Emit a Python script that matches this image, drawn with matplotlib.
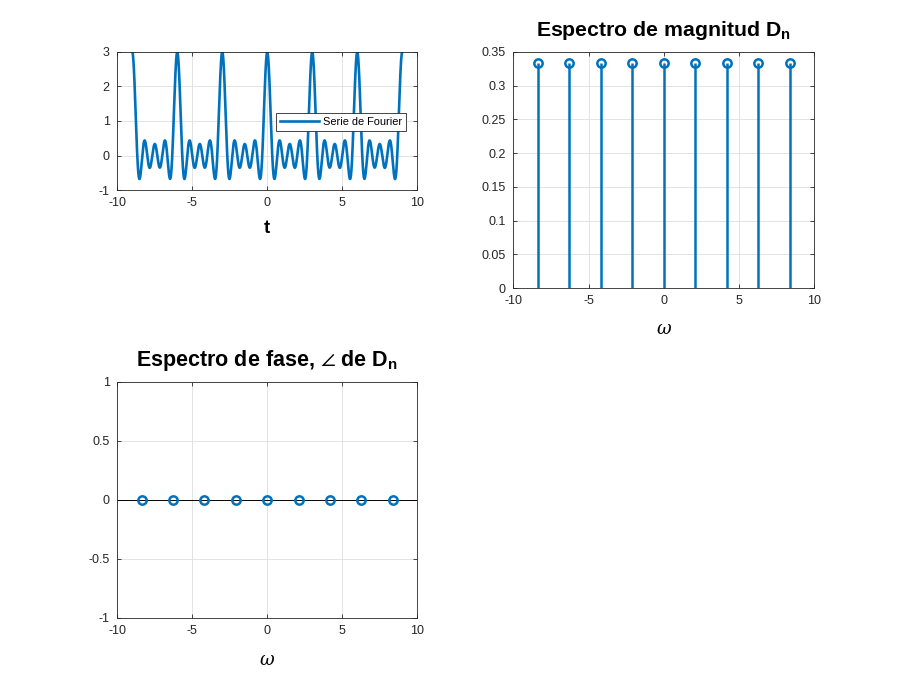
import numpy as np
import matplotlib
matplotlib.use("Agg")
import matplotlib.pyplot as plt

# --------------------------------------------------------------------------
# Data (9 harmonics, period 3 -> w0 = 2*pi/3)
# --------------------------------------------------------------------------
omega = [-8.378, -6.283, -4.189, -2.094, 0.0, 2.094, 4.189, 6.283, 8.378]
Dn_mag = [0.333, 0.333, 0.333, 0.333, 0.333, 0.333, 0.333, 0.333, 0.333]
Dn_phase = [0, 0, 0, 0, 0, 0, 0, 0, 0]

t_start, t_end = -9.0, 9.0

BLUE = "#0072BD"
AX = "#262626"
GRID = "#DEDEDE"

plt.rcParams.update({
    "font.family": ["Liberation Sans", "DejaVu Sans"],
    "font.size": 9,
    "axes.unicode_minus": False,
    "axes.edgecolor": AX,
    "axes.linewidth": 0.6,
    "xtick.color": AX,
    "ytick.color": AX,
    "xtick.direction": "in",
    "ytick.direction": "in",
    "xtick.major.size": 3,
    "ytick.major.size": 3,
    "xtick.major.width": 0.6,
    "ytick.major.width": 0.6,
    "xtick.top": True,
    "ytick.right": True,
    "xtick.major.pad": 5,
    "ytick.major.pad": 5.5,
    "mathtext.fontset": "custom",
    "mathtext.rm": "Liberation Sans",
    "mathtext.bf": "Liberation Sans:bold",
    "mathtext.it": "DejaVu Serif:italic",
    "mathtext.fallback": "stixsans",
})


def style(ax):
    ax.grid(True, color=GRID, lw=0.6)
    ax.set_axisbelow(True)
    ax.tick_params(labelsize=9, labelcolor=AX)


fig = plt.figure(figsize=(9, 6.95), dpi=100)

# --- Serie de Fourier -------------------------------------------------------
ax1 = fig.add_axes([0.1303, 0.7266, 0.3333, 0.1986])
t = np.linspace(t_start, t_end, 4000)
x = np.zeros_like(t)
for d, ph, w in zip(Dn_mag, Dn_phase, omega):
    x += d * np.cos(w * t + ph)
ax1.plot(t, x, color=BLUE, lw=1.9, label="Serie de Fourier")
ax1.set_xlim(-10, 10)
ax1.set_ylim(-1, 3)
ax1.set_xticks([-10, -5, 0, 5, 10])
ax1.set_yticks([-1, 0, 1, 2, 3])
ax1.set_xlabel("t", fontsize=13.5, fontweight="bold", labelpad=8)
style(ax1)
leg = ax1.legend(loc="upper left", bbox_to_anchor=(0.53, 0.558), fontsize=7.9,
                 frameon=True, fancybox=False, edgecolor=AX, framealpha=1,
                 handlelength=3.5, borderpad=0.38, handletextpad=0.35,
                 borderaxespad=0)
leg.get_frame().set_linewidth(0.6)

# --- Espectro de magnitud ----------------------------------------------------
ax2 = fig.add_axes([0.5703, 0.5856, 0.3344, 0.3396])
ml, sl, bl = ax2.stem(omega, Dn_mag, basefmt=" ")
plt.setp(sl, color=BLUE, lw=1.8)
plt.setp(ml, color=BLUE, marker="o", markerfacecolor="none",
         markersize=6, markeredgewidth=1.8)
ax2.set_xlim(-10, 10)
ax2.set_ylim(0, 0.35)
ax2.set_xticks([-10, -5, 0, 5, 10])
ax2.set_yticks(np.arange(0, 0.351, 0.05))
ax2.set_yticklabels(["0", "0.05", "0.1", "0.15", "0.2", "0.25", "0.3", "0.35"])
ax2.set_xlabel(r"$\omega$", fontsize=13, labelpad=10)
ax2.set_title(r"Espectro de magnitud $\mathbf{D_n}$", fontsize=15.3,
              fontweight="bold", pad=11.5)
style(ax2)

# --- Espectro de fase ---------------------------------------------------------
ax3 = fig.add_axes([0.1303, 0.1108, 0.3333, 0.3396])
ax3.axhline(0, color="black", lw=0.7, zorder=2)
ml, sl, bl = ax3.stem(omega, Dn_phase, basefmt=" ")
plt.setp(sl, color=BLUE, lw=1.8)
plt.setp(ml, color=BLUE, marker="o", markerfacecolor="none",
         markersize=6, markeredgewidth=1.8, zorder=3)
ax3.set_xlim(-10, 10)
ax3.set_ylim(-1, 1)
ax3.set_xticks([-10, -5, 0, 5, 10])
ax3.set_yticks([-1, -0.5, 0, 0.5, 1])
ax3.set_yticklabels(["-1", "-0.5", "0", "0.5", "1"])
ax3.set_xlabel(r"$\omega$", fontsize=13, labelpad=11)
ax3.set_title(r"Espectro de fase, $\angle$ de $\mathbf{D_n}$", fontsize=15.5,
              fontweight="bold", pad=11.5)
style(ax3)

fig.savefig("out.png", dpi=100)
plt.close(fig)
